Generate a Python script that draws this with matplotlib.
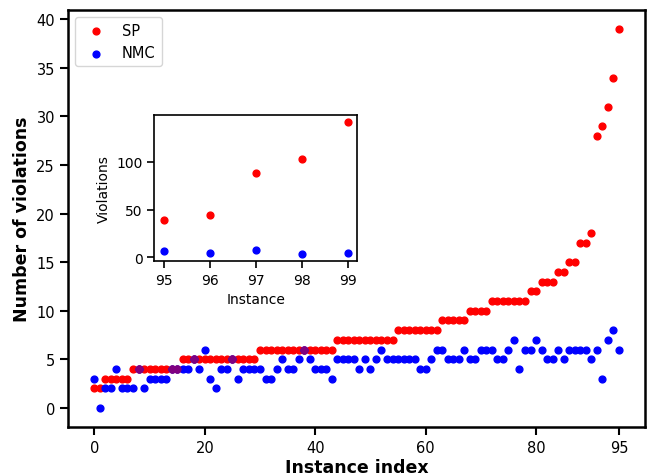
import numpy as np
import matplotlib
matplotlib.use("Agg")
import matplotlib.pyplot as plt

# violations per instance, sorted by SP
sp = [2, 2, 3, 3, 3, 3, 3, 4, 4, 4, 4, 4, 4, 4, 4, 4,
      5, 5, 5, 5, 5, 5, 5, 5, 5, 5, 5, 5, 5, 5,
      6, 6, 6, 6, 6, 6, 6, 6, 6, 6, 6, 6, 6, 6,
      7, 7, 7, 7, 7, 7, 7, 7, 7, 7, 7,
      8, 8, 8, 8, 8, 8, 8, 8,
      9, 9, 9, 9, 9, 10, 10, 10, 10,
      11, 11, 11, 11, 11, 11, 11, 12, 12, 13, 13, 13, 14, 14, 15, 15,
      17, 17, 18, 28, 29, 31, 34, 39]
nmc = [3, 0, 2, 2, 4, 2, 2, 2, 4, 2, 3, 3, 3, 3, 4, 4,
       4, 4, 5, 4, 6, 3, 2, 4, 4, 5, 3, 4, 4, 4,
       4, 3, 3, 4, 5, 4, 4, 5, 6, 5, 4, 4, 4, 3,
       5, 5, 5, 5, 4, 5, 4, 5, 6, 5, 5,
       5, 5, 5, 5, 4, 4, 5, 6,
       6, 5, 5, 5, 6, 5, 5, 6, 6,
       6, 5, 5, 6, 7, 4, 6, 6, 7, 6, 5, 5, 6, 5, 6, 6,
       6, 6, 5, 6, 3, 7, 8, 6]

# the largest instances, shown separately
big_idx = [95, 96, 97, 98, 99]
big_sp = [39, 44, 88, 103, 142]
big_nmc = [6, 4, 7, 3, 4]

sp = np.array(sp)
nmc = np.array(nmc)
idx = np.arange(len(sp))
same = sp == nmc

fig = plt.figure(figsize=(6.49, 4.77), dpi=100)
ax = fig.add_axes([0.105, 0.103, 0.889, 0.874])

ax.scatter(idx, sp, color="red", s=24, label="SP", zorder=2)
ax.scatter(idx, nmc, color="blue", s=24, label="NMC", zorder=3)
# overlapping points
ax.scatter(idx[same], sp[same], color="purple", s=24, zorder=4)

ax.set_xticks([0, 20, 40, 60, 80, 95])
ax.set_yticks([0, 5, 10, 15, 20, 25, 30, 35, 40])
ax.set_xlabel("Instance index", fontsize=12.5, fontweight="bold", labelpad=2)
ax.set_ylabel("Number of violations", fontsize=12.5, fontweight="bold")
ax.tick_params(labelsize=10.5, length=6, width=1.5)
for s in ax.spines.values():
    s.set_linewidth(1.8)
ax.legend(loc="upper left", fontsize=10.5)

ins = fig.add_axes([0.238, 0.451, 0.312, 0.305])
ins.scatter(big_idx, big_sp, color="red", s=24)
ins.scatter(big_idx, big_nmc, color="blue", s=24)
ins.set_xticks(big_idx)
ins.set_yticks([0, 50, 100])
ins.set_xlabel("Instance", fontsize=10)
ins.set_ylabel("Violations", fontsize=10)
ins.tick_params(labelsize=10, length=5, width=1.2)
for s in ins.spines.values():
    s.set_linewidth(1.2)

fig.savefig("out.png", dpi=100)
